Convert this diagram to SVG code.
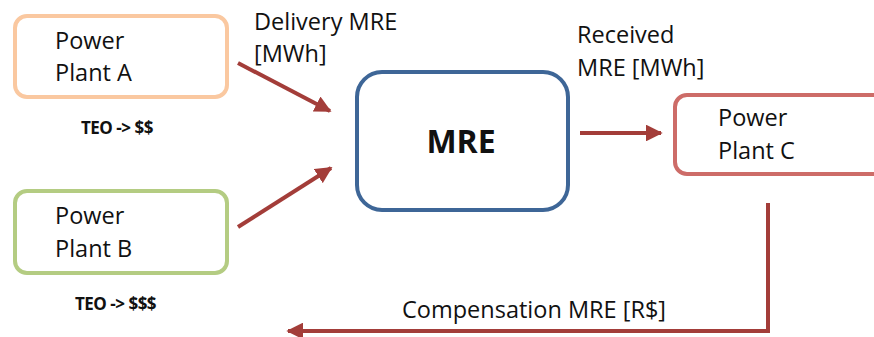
<svg xmlns="http://www.w3.org/2000/svg" width="874" height="337" viewBox="0 0 874 337">
<style>
.lbl{font-family:"Open Sans","Liberation Sans",sans-serif;font-size:23.5px;fill:#111}
.teo{font-family:"Open Sans","Liberation Sans",sans-serif;font-size:17px;font-weight:bold;fill:#111;letter-spacing:-0.5px}
.box{fill:#fff;stroke-width:4}
.conn{stroke:#A33D39;stroke-width:4;fill:none}
</style>
<defs>
<marker id="ah" viewBox="0 0 10 10" refX="9" refY="5" markerWidth="4.2" markerHeight="4.2" markerUnits="strokeWidth" orient="auto">
<path d="M0,0 L10,5 L0,10 z" fill="#A33D39"/>
</marker>
</defs>
<rect width="874" height="337" fill="#fff"/>
<g id="plantA">
<rect class="box" x="15" y="16" width="212" height="81" rx="12" stroke="#FAC8A0"/>
<text class="lbl" x="55" y="49">Power</text>
<text class="lbl" x="55" y="81">Plant A</text>
<text class="teo" x="81" y="134">TEO -&gt; $$</text>
</g>
<g id="plantB">
<rect class="box" x="15" y="191" width="212" height="82" rx="12" stroke="#B4CC82"/>
<text class="lbl" x="55" y="224">Power</text>
<text class="lbl" x="55" y="257">Plant B</text>
<text class="teo" x="75" y="310">TEO -&gt; $$$</text>
</g>
<g id="mre">
<rect class="box" x="357" y="72" width="211" height="138" rx="25" stroke="#3E6697"/>
<text x="461" y="153" text-anchor="middle" font-family="'Open Sans','Liberation Sans',sans-serif" font-size="32" font-weight="bold" fill="#111">MRE</text>
</g>
<g id="plantC">
<rect class="box" x="675" y="95" width="220" height="79" rx="12" stroke="#CD6C68"/>
<text class="lbl" x="718" y="126">Power</text>
<text class="lbl" x="718" y="159">Plant C</text>
</g>
<g id="connectors">
<line class="conn" x1="238" y1="63" x2="330" y2="111" marker-end="url(#ah)"/>
<line class="conn" x1="238" y1="227" x2="331" y2="168" marker-end="url(#ah)"/>
<line class="conn" x1="580" y1="133" x2="661" y2="133" marker-end="url(#ah)"/>
<polyline class="conn" points="768,203 768,331 288,331" marker-end="url(#ah)"/>
<text class="lbl" x="254" y="30">Delivery MRE</text>
<text class="lbl" x="254" y="62">[MWh]</text>
<text class="lbl" x="577" y="43">Received</text>
<text class="lbl" x="577" y="76">MRE [MWh]</text>
<text class="lbl" x="402" y="318">Compensation MRE [R$]</text>
</g>
</svg>
